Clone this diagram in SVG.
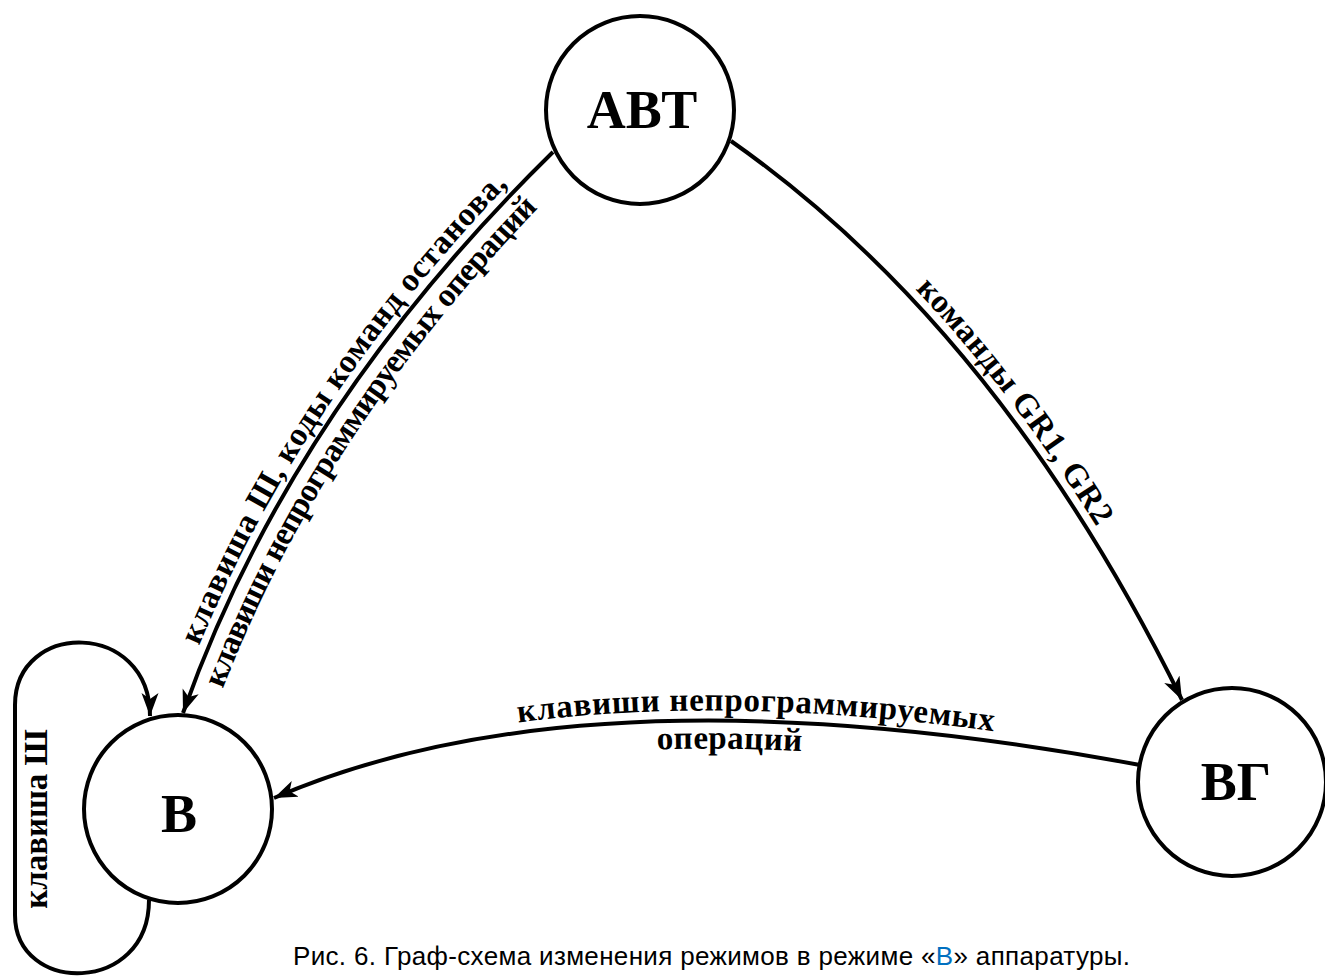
<svg xmlns="http://www.w3.org/2000/svg" xmlns:xlink="http://www.w3.org/1999/xlink" width="1325" height="976" viewBox="0 0 1325 976">
  <style>
    .node circle { fill: #fff; stroke: #000; stroke-width: 4; }
    .node text { font-family: "Liberation Serif", "DejaVu Serif", serif; font-weight: bold; font-size: 54px; text-anchor: middle; fill: #000; }
    .edge { fill: none; stroke: #000; stroke-width: 4; }
    .lbl { font-family: "Liberation Serif", "DejaVu Serif", serif; font-weight: bold; font-size: 33px; fill: #000; }
    .caption { font-family: "Liberation Sans", Arial, sans-serif; font-size: 26px; fill: #000; }
  </style>
  <defs>
    <marker id="arrow" markerUnits="userSpaceOnUse" markerWidth="30" markerHeight="20" refX="23" refY="9" orient="auto" viewBox="0 0 30 20">
      <path d="M23,9 L0,0.5 L6,9 L0,17.5 Z" fill="#000"/>
    </marker>
    <!-- label baselines (left-to-right reading direction) -->
    <path id="p-avt-v" d="M183,713 Q290,410 553,152"/>
    <path id="p-avt-vg" d="M731,141 Q1000,330 1182,700"/>
    <path id="p-vg-v" d="M274,798 Q588,662 1140,765"/>
  </defs>

  <rect width="1325" height="976" fill="#fff"/>

  <g id="connectors">
    <!-- АВТ -> В -->
    <path class="edge" d="M553,152 Q290,410 183,713" marker-end="url(#arrow)"/>
    <!-- АВТ -> ВГ -->
    <path class="edge" d="M731,141 Q1000,330 1182,700" marker-end="url(#arrow)"/>
    <!-- ВГ -> В -->
    <path class="edge" d="M1140,765 Q588,662 274,798" marker-end="url(#arrow)"/>
    <!-- В -> В self loop -->
    <path class="edge" d="M149,900 C149,995 15,995 15,915 L15,705 C15,620 150,620 150,716" marker-end="url(#arrow)"/>
  </g>

  <g id="edge-labels">
    <text class="lbl"><textPath xlink:href="#p-avt-v" startOffset="51%" text-anchor="middle" textLength="555"><tspan dy="-9">клавиша Ш, коды команд останова,</tspan></textPath></text>
    <text class="lbl"><textPath xlink:href="#p-avt-v" startOffset="49%" text-anchor="middle" textLength="590"><tspan dy="29">клавиши непрограммируемых операций</tspan></textPath></text>
    <text class="lbl"><textPath xlink:href="#p-avt-vg" startOffset="53%" text-anchor="middle" textLength="298"><tspan dy="-9">команды GR1, GR2</tspan></textPath></text>
    <text class="lbl"><textPath xlink:href="#p-vg-v" startOffset="56%" text-anchor="middle" textLength="474"><tspan dy="-10">клавиши непрограммируемых</tspan></textPath></text>
    <text class="lbl"><textPath xlink:href="#p-vg-v" startOffset="53%" text-anchor="middle" textLength="147"><tspan dy="28">операций</tspan></textPath></text>
    <text class="lbl" transform="translate(47,819) rotate(-90)" text-anchor="middle" font-size="34">клавиша Ш</text>
  </g>

  <g id="node-avt" class="node">
    <circle cx="640" cy="110" r="94"/>
    <text x="642" y="128">АВТ</text>
  </g>
  <g id="node-v" class="node">
    <circle cx="178" cy="809" r="94"/>
    <text x="179" y="832">В</text>
  </g>
  <g id="node-vg" class="node">
    <circle cx="1232" cy="782" r="94"/>
    <text x="1236" y="800">ВГ</text>
  </g>

  <text class="caption" x="293" y="965" textLength="837">Рис. 6. Граф-схема изменения режимов в режиме «<tspan fill="#0070C0">В</tspan>» аппаратуры.</text>
</svg>
